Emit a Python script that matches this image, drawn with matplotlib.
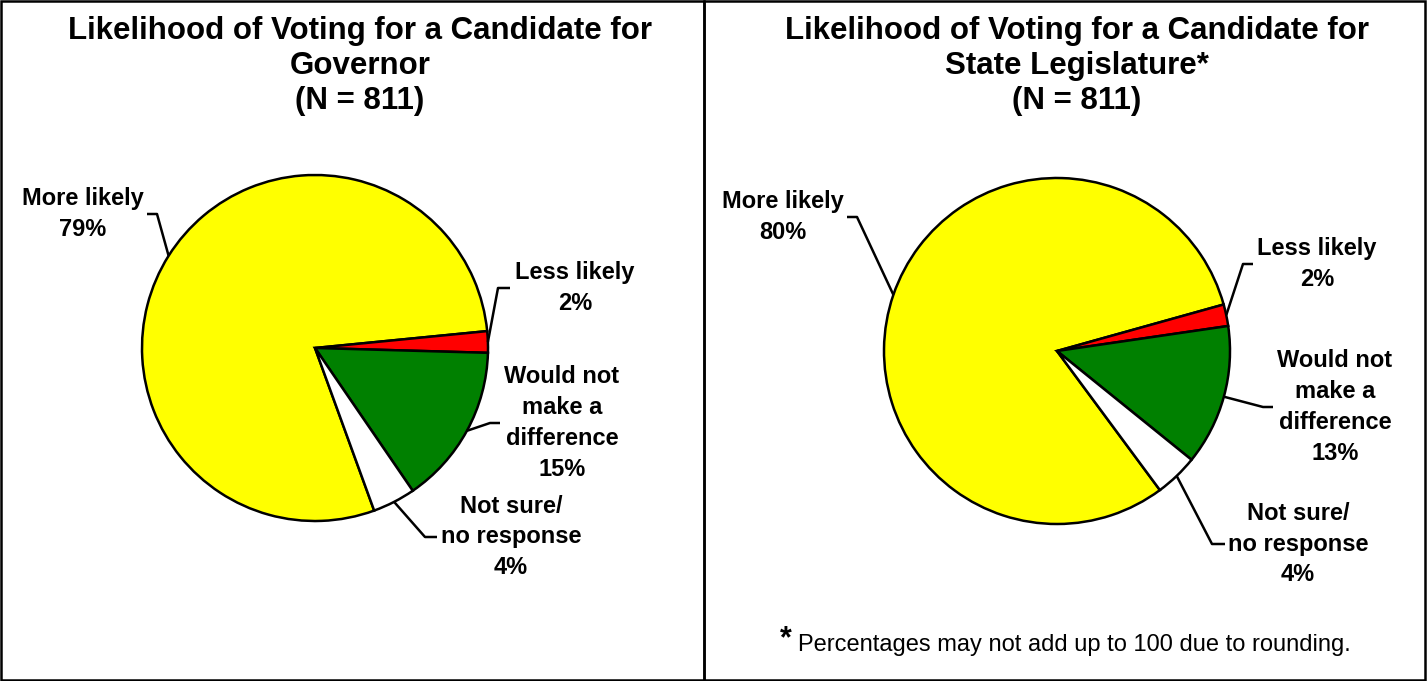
"""
Two pie charts: likelihood of voting for a candidate (Governor / State Legislature).
"""

import matplotlib.pyplot as plt
import numpy as np
from matplotlib.patches import Rectangle

plt.rcParams["font.family"] = ["Liberation Sans", "DejaVu Sans"]

W, H = 1428, 681

# --- data ---
categories = ["More likely", "Less likely", "Would not\nmake a\ndifference", "Not sure/\nno response"]
governor_pct = [79, 2, 15, 4]
legislature_pct = [80, 2, 13, 4]
slice_colors = ["#FFFF00", "#FF0000", "#008000", "#FFFFFF"]

governor_title = "Likelihood of Voting for a Candidate for\nGovernor\n(N = 811)"
legislature_title = "Likelihood of Voting for a Candidate for\nState Legislature*\n(N = 811)"
footnote = "Percentages may not add up to 100 due to rounding."

# --- layout (pixels, measured from the top-left corner) ---
panels = [
    {
        "values": governor_pct,
        "title": governor_title,
        "title_x": 360,
        "frame": (1, 704),
        "center": (315, 348),
        "radius": 173,
        "startangle": 290,
        # label block centre, leader bend x, leader tip x
        "labels": [(83, 214, 157, 147), (575, 288, 498, 510),
                   (562, 423, 490, 500), (511, 537, 425, 437)],
    },
    {
        "values": legislature_pct,
        "title": legislature_title,
        "title_x": 1077,
        "frame": (704, 1425),
        "center": (1057, 351),
        "radius": 173,
        "startangle": 306.5,
        "labels": [(783, 217, 857, 847), (1317, 264, 1243, 1253),
                   (1335, 407, 1263, 1273), (1298, 544, 1212, 1225)],
    },
]


def flip(y):
    return H - y


fig = plt.figure(figsize=(W / 100, H / 100), dpi=100)
ax = fig.add_axes([0, 0, 1, 1])

for panel in panels:
    x0, x1 = panel["frame"]
    ax.add_patch(Rectangle((x0, 1), x1 - x0, H - 2, fill=False,
                           edgecolor="black", linewidth=1.8))

    cx, cy = panel["center"]
    r = panel["radius"]
    wedges, _ = ax.pie(
        panel["values"], colors=slice_colors, startangle=panel["startangle"],
        counterclock=False, center=(cx, flip(cy)), radius=r, frame=True,
        wedgeprops=dict(edgecolor="black", linewidth=1.8),
    )

    for wedge, name, pct, (tx, ty, bend_x, tip_x) in zip(
            wedges, categories, panel["values"], panel["labels"]):
        mid = np.deg2rad((wedge.theta1 + wedge.theta2) / 2)
        edge_x = cx + r * np.cos(mid)
        edge_y = flip(cy) + r * np.sin(mid)
        ax.plot([edge_x, bend_x, tip_x], [edge_y, flip(ty), flip(ty)],
                color="black", linewidth=1.8, solid_capstyle="butt")
        ax.text(tx, flip(ty), f"{name}\n{pct}%", ha="center", va="center",
                fontsize=17, fontweight="bold", linespacing=1.44)

    ax.text(panel["title_x"], flip(66), panel["title"], ha="center", va="center",
            fontsize=22.5, fontweight="bold", linespacing=1.2)

# footnote for the right panel
ax.text(792, flip(639), "*", ha="right", va="center", fontsize=22, fontweight="bold")
ax.text(798, flip(645), footnote, ha="left", va="center", fontsize=17)

ax.set_xlim(0, W)
ax.set_ylim(0, H)
ax.axis("off")

fig.savefig("out.png", dpi=100)
